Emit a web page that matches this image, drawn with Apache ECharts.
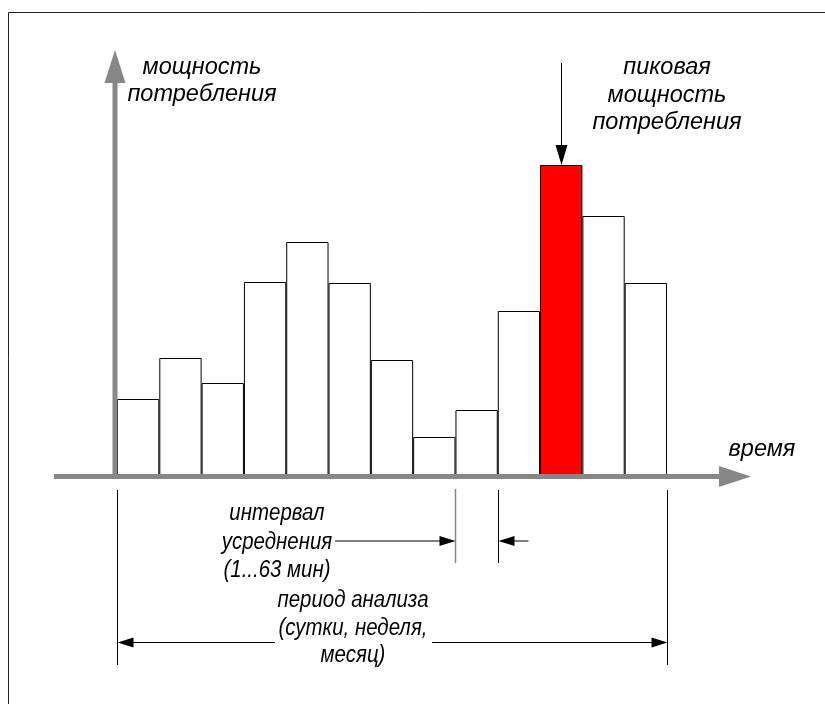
<!DOCTYPE html>
<html><head><meta charset="utf-8">
<script src="https://cdn.jsdelivr.net/npm/echarts@6/dist/echarts.min.js"></script>
<style>html,body{margin:0;padding:0;background:#fff}#c{width:825px;height:704px}</style>
</head><body><div id="c"></div>
<script>
// ---- data ----
const categories = ['1','2','3','4','5','6','7','8','9','10','11','12','13'];
const power = [77, 118, 93, 194, 234, 193, 116, 39, 66, 165, 311, 260, 193];
const peakIndex = 10;           // highlighted bar
const intervalIndex = 8;        // bar used to show the averaging interval
const yLabel = 'мощность\nпотребления';
const xLabel = 'время';
const peakLabel = 'пиковая\nмощность\nпотребления';
const intervalLabel = 'интервал\nусреднения\n(1...63 мин)';
const periodLabel = 'период анализа\n(сутки, неделя,\nмесяц)';

const chart = echarts.init(document.getElementById('c'), null, {renderer: 'canvas'});
const GRAY = '#878787';
const FAMILY = '"Liberation Sans", Arial, sans-serif';

chart.setOption({
  animation: false,
  backgroundColor: '#fff',
  grid: {left: 117, width: 550, top: 50, height: 426},
  xAxis: {type: 'category', data: categories, show: false},
  yAxis: {type: 'value', min: 0, max: 426, show: false},
  series: [{
    type: 'bar',
    barCategoryGap: '0%',
    data: power.map((v, i) => ({
      value: v,
      itemStyle: {color: i === peakIndex ? '#ff0000' : '#ffffff', borderColor: '#000', borderWidth: 1}
    })),
    z: 2
  }]
});

const band = 550 / categories.length;
const cx = i => chart.convertToPixel({xAxisIndex: 0}, i);
const py = v => chart.convertToPixel({yAxisIndex: 0}, v);
const oy = py(0);
const left0 = cx(0) - band / 2;
const rightN = cx(categories.length - 1) + band / 2;
const peakX = Math.round(cx(peakIndex)) + 0.5;
const peakTop = py(power[peakIndex]);
const intL = Math.round(cx(intervalIndex) - band / 2) + 0.5;
const intR = Math.round(cx(intervalIndex) + band / 2) + 0.5;
const pL = Math.round(left0) + 0.5, pR = Math.round(rightN) + 0.5;
const yAx = left0 - 2;

function line(x1, y1, x2, y2, stroke, w) {
  return {type: 'line', z: 10, shape: {x1, y1, x2, y2}, style: {stroke: stroke || '#000', lineWidth: w || 1}};
}
function poly(pts, fill) {
  return {type: 'polygon', z: 10, shape: {points: pts}, style: {fill: fill || '#000'}};
}
function text(x, y, t, lh, size, sx) {
  return {type: 'text', z: 10, x, y, scaleX: sx || 1, style: {text: t, align: 'center', verticalAlign: 'middle', lineHeight: lh || 28,
    fontFamily: FAMILY, fontStyle: 'italic', fontSize: size, fill: '#000'}};
}

const yA = 541, yP = 642.5;
chart.setOption({
  graphic: [
    // frame
    {type: 'polyline', z: 10, shape: {points: [[8.5, 704], [8.5, 12.5], [825, 12.5]]}, style: {stroke: '#222', lineWidth: 1, fill: null}},
    // vertical axis
    line(yAx, oy + 2, yAx, 82, GRAY, 5),
    poly([[yAx - 10.5, 83], [yAx + 10.5, 83], [yAx, 50]], GRAY),
    // horizontal axis
    line(54, oy + 0.5, 720, oy + 0.5, GRAY, 5),
    poly([[719, oy - 10], [719, oy + 11], [751, oy + 0.5]], GRAY),
    // peak arrow
    line(peakX, 63, peakX, peakTop - 18),
    poly([[peakX - 6, peakTop - 20], [peakX + 6, peakTop - 20], [peakX, peakTop]]),
    // interval marks
    line(intL, 489, intL, 563, GRAY, 1.5),
    line(intR, 490, intR, 563, '#000', 1),
    line(335, yA, intL - 14, yA),
    poly([[intL - 16, yA - 5], [intL - 16, yA + 5], [intL, yA]]),
    line(intR + 14, yA, intR + 30, yA),
    poly([[intR + 16, yA - 5], [intR + 16, yA + 5], [intR, yA]]),
    // analysis period
    line(pL, 490, pL, 665),
    line(pR, 490, pR, 665),
    line(pL + 14, yP, 275, yP),
    line(432, yP, pR - 14, yP),
    poly([[pL + 16, yP - 5], [pL + 16, yP + 5], [pL, yP]]),
    poly([[pR - 16, yP - 5], [pR - 16, yP + 5], [pR, yP]]),
    // labels
    text(202, 81, yLabel, 27, 24.5, 0.96),
    text(667, 95, peakLabel, 27.5, 24.5, 0.96),
    text(762, 449, xLabel, 28, 24.5, 0.96),
    text(277, 542, intervalLabel, 28.5, 23.5, 0.87),
    text(353, 628, periodLabel, 27.5, 23.5, 0.87)
  ]
});
</script></body></html>
